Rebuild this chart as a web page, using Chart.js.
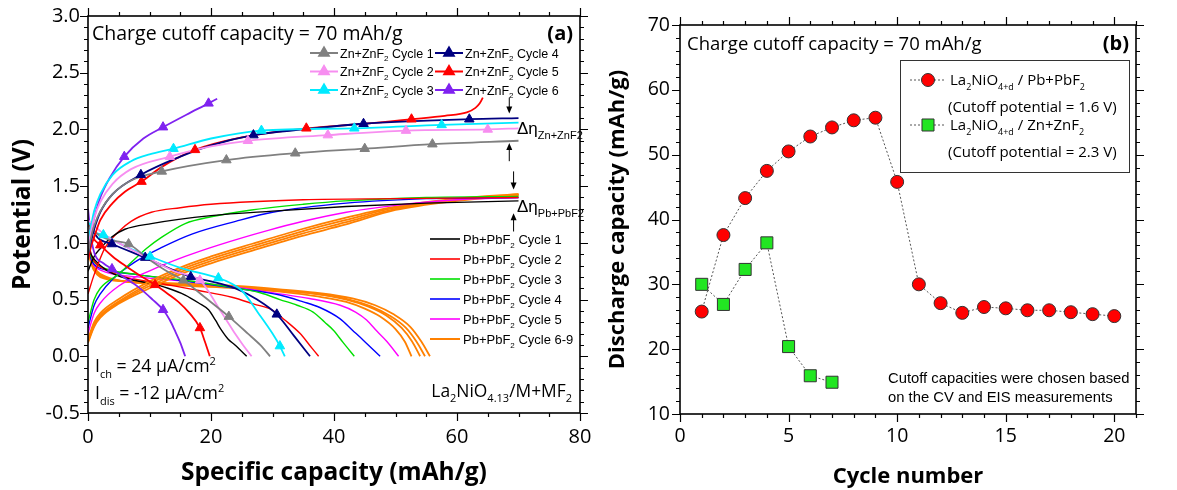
<!DOCTYPE html>
<html>
<head>
<meta charset="utf-8">
<script src="https://cdn.jsdelivr.net/npm/chart.js@4.4.0/dist/chart.umd.min.js"></script>
<style>
  html, body { margin: 0; padding: 0; background: #fff; }
  #wrap { position: relative; width: 1177px; height: 490px; }
  #panelA { position: absolute; left: 0; top: 0; width: 600px; height: 490px; }
  #panelB { position: absolute; left: 600px; top: 0; width: 577px; height: 490px; }
</style>
</head>
<body>
<div id="wrap">
  <div id="panelA"><canvas id="chartA"></canvas></div>
  <div id="panelB"><canvas id="chartB"></canvas></div>
</div>
<script>
"use strict";

// ---- panel (a): [specific capacity mAh/g, potential V] ----
const pb1Charge = [[0,0.75],[1,0.88],[2,0.95],[3.8,1.05],[6,1.12],[10.3,1.17],[20,1.24],[30,1.28],[42,1.32],[55,1.35],[70,1.37]];
const pb2Charge = [[0,0.55],[1,0.72],[2.8,0.96],[5,1.1],[7,1.19],[10.3,1.27],[15,1.31],[20,1.34],[35,1.38],[50,1.39],[70,1.40]];
const pb3Charge = [[0,0.3],[1,0.5],[2,0.6],[4.9,0.72],[9.5,0.95],[12,1.05],[15.8,1.17],[20,1.23],[26.6,1.29],[35,1.34],[41.8,1.37],[55,1.40],[70,1.41]];
const pb4Charge = [[0,0.25],[1,0.45],[2,0.55],[4,0.68],[7.6,0.83],[12,0.96],[17,1.08],[24,1.19],[30,1.27],[42,1.35],[55,1.39],[70,1.40]];
const pb5Charge = [[0,0.2],[1,0.38],[2,0.47],[5,0.62],[10.3,0.76],[15.8,0.88],[21.2,0.98],[29.3,1.11],[35,1.19],[42,1.27],[50,1.33],[60,1.38],[70,1.40]];
const pb6Charge = [[0,0.15],[1,0.3],[2,0.38],[4.9,0.5],[10,0.66],[15.8,0.8],[20,0.88],[26.6,0.99],[34.7,1.12],[41.8,1.22],[50,1.32],[60,1.39],[70,1.43]];
const pb7Charge = [[0,0.14],[1,0.28],[2,0.36],[4.9,0.48],[10,0.64],[15.8,0.78],[20,0.86],[26.6,0.97],[34.7,1.1],[41.8,1.2],[50,1.31],[60,1.38],[70,1.43]];
const pb8Charge = [[0,0.13],[1,0.27],[2,0.35],[4.9,0.47],[10,0.62],[15.8,0.76],[20,0.84],[26.6,0.95],[34.7,1.08],[41.8,1.18],[50,1.3],[60,1.38],[70,1.42]];
const pb9Charge = [[0,0.12],[1,0.26],[2,0.34],[4.9,0.46],[10,0.6],[15.8,0.74],[20,0.82],[26.6,0.93],[34.7,1.06],[41.8,1.16],[50,1.29],[60,1.37],[70,1.42]];

const pb1Dis = [[0,1.0],[0.5,0.9],[1.1,0.85],[3,0.76],[4.9,0.71],[7.5,0.67],[10.3,0.64],[13,0.6],[15.8,0.54],[18,0.47],[19.6,0.41],[20.7,0.32],[21.7,0.23],[22.8,0.15],[23.9,0.1],[25.8,0]];
const pb2Dis = [[0,1.05],[0.5,0.9],[1,0.84],[3,0.76],[6,0.7],[12,0.64],[18,0.58],[23.4,0.52],[27,0.46],[29.9,0.41],[32,0.32],[34.5,0.2],[36,0.1],[37.5,0]];
const pb3Dis = [[0,1.0],[0.5,0.88],[1,0.83],[3,0.77],[8,0.72],[15.8,0.67],[22,0.62],[28,0.56],[31.2,0.5],[34,0.45],[36.6,0.39],[38.5,0.3],[39.9,0.23],[41.5,0.12],[43.3,0]];
const pb4Dis = [[0,1.0],[0.5,0.86],[1,0.81],[3,0.76],[8,0.72],[16,0.66],[24,0.6],[31.2,0.54],[35,0.48],[37.7,0.43],[41,0.33],[43,0.23],[44.8,0.14],[47.5,0]];
const pb5Dis = [[0,1.0],[0.5,0.85],[1,0.8],[3,0.74],[8,0.7],[16,0.66],[24,0.61],[31.2,0.55],[36,0.51],[41,0.45],[43.5,0.39],[45.3,0.32],[47,0.22],[48.6,0.13],[50.5,0]];
const pb6Dis = [[0,1.0],[0.5,0.85],[1.5,0.75],[3,0.7],[6,0.66],[10,0.64],[16,0.62],[24,0.6],[31.2,0.57],[37,0.53],[42,0.48],[45,0.42],[47.5,0.35],[50,0.24],[51.5,0.13],[52.6,0]];
const pb7Dis = [[0,1.0],[0.5,0.84],[1.5,0.74],[3,0.69],[6,0.66],[10,0.64],[16,0.63],[24,0.61],[31.2,0.58],[37,0.55],[42,0.5],[45.5,0.44],[48.5,0.36],[51,0.25],[52.7,0.13],[54,0]];
const pb8Dis = [[0,0.98],[0.5,0.83],[1.5,0.73],[3,0.69],[6,0.66],[10,0.65],[16,0.63],[24,0.61],[31.2,0.58],[37,0.55],[42.5,0.5],[46,0.44],[49,0.36],[51.7,0.25],[53.4,0.13],[54.8,0]];
const pb9Dis = [[0,0.97],[0.5,0.82],[1.5,0.72],[3,0.68],[6,0.66],[10,0.65],[16,0.64],[24,0.62],[31.2,0.59],[37,0.56],[43,0.51],[46.7,0.45],[49.7,0.37],[52.4,0.26],[54.2,0.13],[55.6,0]];

const zn1Charge = [[0,0.9],[0.5,1.05],[1,1.15],[2,1.28],[4,1.43],[7,1.55],[12,1.63],[22.5,1.73],[33.7,1.79],[45,1.83],[56,1.87],[70,1.90]];
const zn2Charge = [[0,0.95],[0.5,1.1],[1,1.22],[2,1.36],[4,1.52],[7,1.65],[13.3,1.76],[20,1.85],[26,1.90],[39,1.95],[51.7,1.99],[65,2.0],[70,2.01]];
const zn3Charge = [[0,1.0],[0.5,1.15],[1,1.28],[2,1.43],[4,1.6],[7,1.72],[10,1.78],[13.9,1.83],[20,1.92],[28.2,1.99],[43.3,2.01],[57.5,2.04],[70,2.06]];
const zn4Charge = [[0,0.9],[0.5,1.02],[1,1.12],[2,1.27],[4,1.43],[8.6,1.60],[15,1.76],[20,1.86],[26.9,1.95],[35,2.0],[44.8,2.05],[62,2.09],[70,2.10]];
const zn5Charge = [[0,0.85],[0.5,0.97],[1,1.05],[2,1.2],[4,1.35],[6,1.45],[8.7,1.54],[12,1.67],[17.4,1.82],[25,1.93],[35.5,2.01],[45,2.05],[52.6,2.09],[58,2.12],[61.6,2.15],[63,2.19],[63.7,2.23],[64.2,2.28]];
const zn6Charge = [[0,0.95],[0.5,1.1],[1,1.22],[2,1.4],[3.5,1.57],[5.9,1.76],[9,1.92],[12.2,2.02],[16,2.13],[19.6,2.23],[21,2.27]];

const zn1Dis = [[0,1.15],[2,1.06],[4,1.02],[6.6,0.99],[10,0.85],[12.5,0.76],[15.5,0.67],[19,0.52],[22.9,0.35],[26,0.2],[28,0.1],[29.6,0]];
const zn2Dis = [[0,1.2],[3,1.06],[6,0.97],[10,0.86],[14,0.75],[18.2,0.67],[19.5,0.58],[21.2,0.43],[22.5,0.32],[23.9,0.2],[25.2,0.1],[26.6,0]];
const zn3Dis = [[0,1.2],[1,1.1],[2.5,1.07],[6,0.97],[10.1,0.88],[15,0.78],[21.2,0.69],[23,0.65],[25,0.58],[27.7,0.38],[30,0.2],[31.2,0.09],[32,0]];
const zn4Dis = [[0,1.2],[1.5,1.05],[3.9,0.99],[9.3,0.87],[16.7,0.70],[20,0.66],[23.9,0.6],[27.5,0.5],[30.7,0.37],[33.5,0.18],[36.1,0]];
const zn5Dis = [[0,1.2],[0.8,1.05],[2,0.98],[4,0.88],[6,0.8],[8.5,0.71],[10.9,0.63],[13,0.55],[14.7,0.48],[16.5,0.38],[18.2,0.25],[19,0.13],[19.8,0]];
const zn6Dis = [[0,1.3],[0.5,1.05],[1.1,0.9],[2.5,0.82],[3.9,0.77],[6,0.69],[8.2,0.61],[10.5,0.5],[12.2,0.41],[13.3,0.32],[14.1,0.23],[15,0.12],[15.8,0]];

// triangle markers on the Zn+ZnF2 curves
const zn1Marks = [[12,1.63],[22.5,1.73],[33.7,1.79],[45,1.83],[56,1.87],[6.6,0.99],[15.5,0.67],[22.9,0.35]];
const zn2Marks = [[13.3,1.76],[26,1.90],[39,1.95],[51.7,1.99],[65,2.0],[18.2,0.67]];
const zn3Marks = [[13.9,1.83],[28.2,1.99],[43.3,2.01],[57.5,2.04],[2.5,1.07],[10.1,0.88],[21.2,0.69],[31.2,0.09]];
const zn4Marks = [[8.6,1.60],[26.9,1.95],[44.8,2.05],[62,2.09],[3.9,0.99],[9.3,0.87],[16.7,0.70],[30.7,0.37]];
const zn5Marks = [[8.7,1.54],[17.4,1.82],[35.5,2.01],[52.6,2.09],[2.0,0.98],[10.9,0.63],[18.2,0.25]];
const zn6Marks = [[5.9,1.76],[12.2,2.02],[19.6,2.23],[3.9,0.77],[12.2,0.41]];

const znCycleLabels = ["1", "2", "3", "4", "5", "6"];
const pbCycleLabels = ["1", "2", "3", "4", "5", "6-9"];
const capacityTicks = [0, 20, 40, 60, 80];
const potentialTicks = [-0.5, 0, 0.5, 1, 1.5, 2, 2.5, 3];

// ---- panel (b): discharge capacity per cycle ----
const pbCycles = [1,2,3,4,5,6,7,8,9,10,11,12,13,14,15,16,17,18,19,20];
const pbCapacity = [25.8,37.6,43.3,47.5,50.5,52.8,54.2,55.3,55.7,45.8,30.0,27.1,25.6,26.5,26.3,26.0,26.0,25.7,25.4,25.1];
const znCycles = [1,2,3,4,5,6,7];
const znCapacity = [30.0,26.9,32.3,36.4,20.4,15.9,14.9];
const cycleTicks = [0, 5, 10, 15, 20];
const dischargeTicks = [10, 20, 30, 40, 50, 60, 70];

const SANS = "'Open Sans', sans-serif";
const ARIAL = "'Liberation Sans', Arial, sans-serif";
const znColors = ["#808080", "#f78ef0", "#00eaff", "#000080", "#ff0000", "#7f22f0"];
const pbColors = ["#000000", "#ff0000", "#00e000", "#0000ff", "#ff00ff", "#ff8000"];

function xy(pairs) {
  return pairs.map(p => ({x: p[0], y: p[1]}));
}

function curve(pairs, color, width) {
  return {
    data: xy(pairs), showLine: true, borderColor: color, backgroundColor: color,
    borderWidth: width, pointRadius: 0, pointHoverRadius: 0,
    cubicInterpolationMode: "monotone", fill: false
  };
}

function marks(pairs, color) {
  return {
    data: xy(pairs), showLine: false, pointStyle: "triangle", pointRadius: 5.5,
    pointBackgroundColor: color, pointBorderColor: color, pointBorderWidth: 1
  };
}

// text with sub/superscript pieces; y is the visual middle of the text
function rich(ctx, parts, x, y, size, opt) {
  const weight = opt.weight || "normal";
  const fontOf = kind => weight + " " + (kind ? Math.round(size * 0.62) : size) + "px " + opt.family;
  let w = 0;
  parts.forEach(p => { ctx.font = fontOf(p[1]); w += ctx.measureText(p[0]).width; });
  let cx = opt.align === "right" ? x - w : (opt.align === "center" ? x - w / 2 : x);
  ctx.textAlign = "left";
  ctx.textBaseline = "alphabetic";
  ctx.fillStyle = opt.color || "#000";
  const base = y + size * 0.36;
  parts.forEach(p => {
    ctx.font = fontOf(p[1]);
    const dy = p[1] === "sub" ? size * 0.3 : (p[1] === "sup" ? -size * 0.42 : 0);
    ctx.fillText(p[0], cx, base + dy);
    cx += ctx.measureText(p[0]).width;
  });
}

function vArrow(ctx, x, y0, y1) {
  const dir = y1 > y0 ? 1 : -1;
  ctx.beginPath();
  ctx.moveTo(x, y0);
  ctx.lineTo(x, y1 - dir * 4);
  ctx.stroke();
  ctx.beginPath();
  ctx.moveTo(x, y1);
  ctx.lineTo(x - 3, y1 - dir * 7);
  ctx.lineTo(x + 3, y1 - dir * 7);
  ctx.closePath();
  ctx.fill();
}

// frame on all four sides with outward major / minor ticks
const frameTicks = {
  id: "frameTicks",
  afterDatasetsDraw(chart, args, o) {
    const {ctx, chartArea: a, scales: {x, y}} = chart;
    const isMajor = (v, m) => Math.abs(v / m - Math.round(v / m)) < 1e-6;
    ctx.save();
    ctx.strokeStyle = "#000";
    ctx.lineWidth = 1.2;
    ctx.beginPath();
    const nx = Math.round((x.max - x.min) / o.xMinor);
    for (let i = 0; i <= nx; i++) {
      const v = x.min + i * o.xMinor;
      const px = Math.round(x.getPixelForValue(v)) + 0.5;
      const len = isMajor(v, o.xMajor) ? 8 : 4;
      ctx.moveTo(px, a.bottom); ctx.lineTo(px, a.bottom + len);
      ctx.moveTo(px, a.top); ctx.lineTo(px, a.top - len);
    }
    const ny = Math.round((y.max - y.min) / o.yMinor);
    for (let i = 0; i <= ny; i++) {
      const v = y.min + i * o.yMinor;
      const py = Math.round(y.getPixelForValue(v)) + 0.5;
      const len = isMajor(v, o.yMajor) ? 8 : 4;
      ctx.moveTo(a.left, py); ctx.lineTo(a.left - len, py);
      ctx.moveTo(a.right, py); ctx.lineTo(a.right + len, py);
    }
    ctx.stroke();
    ctx.lineWidth = 1.6;
    ctx.strokeRect(a.left, a.top, a.right - a.left, a.bottom - a.top);
    ctx.restore();
  }
};

function axes(cfg) {
  return {
    x: {
      type: "linear", min: cfg.xMin, max: cfg.xMax,
      afterBuildTicks: s => { s.ticks = cfg.xTicks.map(v => ({value: v})); },
      afterFit: s => { s.height = cfg.xHeight; s.paddingLeft = 0; s.paddingRight = 0; },
      grid: {display: false, drawTicks: false},
      border: {display: false},
      ticks: {color: "#000", padding: cfg.xPad, maxRotation: 0, font: {family: SANS, size: cfg.tickSize},
              callback: cfg.xFormat},
      title: {display: true, text: cfg.xTitle, color: "#000", padding: {top: 0, bottom: cfg.xTitlePad},
              font: {family: SANS, size: cfg.titleSize, weight: "bold"}}
    },
    y: {
      type: "linear", min: cfg.yMin, max: cfg.yMax,
      afterBuildTicks: s => { s.ticks = cfg.yTicks.map(v => ({value: v})); },
      afterFit: s => { s.width = cfg.yWidth; s.paddingTop = 0; s.paddingBottom = 0; },
      grid: {display: false, drawTicks: false},
      border: {display: false},
      ticks: {color: "#000", padding: cfg.yPad, font: {family: SANS, size: cfg.tickSize}, callback: cfg.yFormat},
      title: {display: true, text: cfg.yTitle, color: "#000", padding: {top: cfg.yTitlePad, bottom: 0},
              font: {family: SANS, size: cfg.titleSize, weight: "bold"}}
    }
  };
}

// ---------- panel (a) ----------
const znCharge = [zn1Charge, zn2Charge, zn3Charge, zn4Charge, zn5Charge, zn6Charge];
const znDis = [zn1Dis, zn2Dis, zn3Dis, zn4Dis, zn5Dis, zn6Dis];
const znMarks = [zn1Marks, zn2Marks, zn3Marks, zn4Marks, zn5Marks, zn6Marks];
const pbCharge = [pb1Charge, pb2Charge, pb3Charge, pb4Charge, pb5Charge, pb6Charge, pb7Charge, pb8Charge, pb9Charge];
const pbDis = [pb1Dis, pb2Dis, pb3Dis, pb4Dis, pb5Dis, pb6Dis, pb7Dis, pb8Dis, pb9Dis];

const setsA = [];
znMarks.forEach((m, i) => setsA.push(marks(m, znColors[i])));
znCharge.forEach((c, i) => setsA.push(curve(c, znColors[i], 1.8)));
znDis.forEach((c, i) => setsA.push(curve(c, znColors[i], 1.8)));
pbCharge.forEach((c, i) => setsA.push(curve(c, pbColors[Math.min(i, 5)], i >= 5 ? 1.8 : 1.4)));
pbDis.forEach((c, i) => setsA.push(curve(c, pbColors[Math.min(i, 5)], i >= 5 ? 1.8 : 1.4)));

const notesA = {
  id: "notesA",
  afterDraw(chart) {
    const {ctx, scales: {x, y}} = chart;
    ctx.save();
    rich(ctx, [["Charge cutoff capacity = 70 mAh/g"]], 92, 33, 19.5, {family: SANS});
    rich(ctx, [["(a)"]], 573, 33, 20, {family: SANS, weight: "bold", align: "right"});

    // Zn+ZnF2 legend, two columns
    znColors.forEach((c, i) => {
      const x0 = i < 3 ? 310 : 435;
      const yy = 53 + (i % 3) * 18.5;
      ctx.strokeStyle = c; ctx.lineWidth = 2;
      ctx.beginPath(); ctx.moveTo(x0, yy); ctx.lineTo(x0 + 28, yy); ctx.stroke();
      ctx.fillStyle = c;
      Chart.helpers.drawPoint(ctx, {pointStyle: "triangle", radius: 5.5, rotation: 0, borderWidth: 1}, x0 + 14, yy);
      rich(ctx, [["Zn+ZnF"], ["2", "sub"], [" Cycle " + znCycleLabels[i]]], x0 + 30, yy, 12.5, {family: ARIAL});
    });

    // Pb+PbF2 legend
    pbColors.forEach((c, i) => {
      const yy = 239 + i * 20;
      ctx.strokeStyle = c; ctx.lineWidth = i === 5 ? 2 : 1.6;
      ctx.beginPath(); ctx.moveTo(430, yy); ctx.lineTo(460, yy); ctx.stroke();
      rich(ctx, [["Pb+PbF"], ["2", "sub"], [" Cycle " + pbCycleLabels[i]]], 463, yy, 13, {family: ARIAL});
    });

    // overpotential arrows
    ctx.strokeStyle = "#000"; ctx.fillStyle = "#000"; ctx.lineWidth = 1;
    const ax1 = x.getPixelForValue(68.5);
    vArrow(ctx, ax1, y.getPixelForValue(2.28), y.getPixelForValue(2.14));
    vArrow(ctx, ax1, y.getPixelForValue(1.72), y.getPixelForValue(1.88));
    const ax2 = x.getPixelForValue(69.2);
    vArrow(ctx, ax2, y.getPixelForValue(1.63), y.getPixelForValue(1.47));
    vArrow(ctx, ax2, y.getPixelForValue(1.10), y.getPixelForValue(1.26));
    rich(ctx, [["\u0394\u03B7"], ["Zn+ZnF2", "sub"]], 517, 128, 17, {family: ARIAL});
    rich(ctx, [["\u0394\u03B7"], ["Pb+PbF2", "sub"]], 517, 206, 17, {family: ARIAL});

    rich(ctx, [["I"], ["ch", "sub"], [" = 24 \u03BCA/cm"], ["2", "sup"]], 95, 366, 17.7, {family: SANS});
    rich(ctx, [["I"], ["dis", "sub"], [" = -12 \u03BCA/cm"], ["2", "sup"]], 95, 393, 17.7, {family: SANS});
    rich(ctx, [["La"], ["2", "sub"], ["NiO"], ["4.13", "sub"], ["/M+MF"], ["2", "sub"]], 572, 391, 17.4, {family: SANS, align: "right"});
    ctx.restore();
  }
};

new Chart(document.getElementById("chartA"), {
  type: "scatter",
  data: {datasets: setsA},
  options: {
    responsive: true, maintainAspectRatio: false, animation: false,
    layout: {padding: {top: 16, right: 20, left: 0, bottom: 0}},
    scales: axes({
      xMin: 0, xMax: 80, xTicks: capacityTicks, xHeight: 77, xPad: 12, xTitlePad: 2,
      xTitle: "Specific capacity (mAh/g)", xFormat: v => String(v),
      yMin: -0.5, yMax: 3, yTicks: potentialTicks, yWidth: 88, yPad: 8, yTitlePad: 8,
      yTitle: "Potential (V)", yFormat: v => v.toFixed(1),
      tickSize: 20, titleSize: 24.5
    }),
    plugins: {
      legend: {display: false}, tooltip: {enabled: false},
      frameTicks: {xMajor: 20, xMinor: 5, yMajor: 0.5, yMinor: 0.1}
    }
  },
  plugins: [frameTicks, notesA]
});

// ---------- panel (b) ----------
function cycleSet(cyc, vals, style, radius, fillColor) {
  return {
    data: cyc.map((c, i) => ({x: c, y: vals[i]})), showLine: true,
    borderColor: "#555", borderWidth: 1, borderDash: [2, 2], tension: 0,
    pointStyle: style, pointRadius: radius, pointHoverRadius: radius,
    pointBackgroundColor: fillColor, pointBorderColor: "#333", pointBorderWidth: 1
  };
}

const setsB = [
  cycleSet(pbCycles, pbCapacity, "circle", 6.5, "#ff0000"),
  cycleSet(znCycles, znCapacity, "rect", 8.5, "#22e622")
];

const notesB = {
  id: "notesB",
  afterDraw(chart) {
    const ctx = chart.ctx;
    ctx.save();
    rich(ctx, [["Charge cutoff capacity = 70 mAh/g"]], 87, 43, 18.5, {family: SANS});
    rich(ctx, [["(b)"]], 529, 43, 20, {family: SANS, weight: "bold", align: "right"});

    ctx.strokeStyle = "#333"; ctx.lineWidth = 1;
    ctx.strokeRect(300.5, 60.5, 229, 112);
    const rows = [
      {y: 80, style: "circle", r: 6.5, fill: "#ff0000", name: "Pb+PbF", pot: "1.6"},
      {y: 125, style: "rect", r: 8.5, fill: "#22e622", name: "Zn+ZnF", pot: "2.3"}
    ];
    rows.forEach(rw => {
      ctx.strokeStyle = "#555"; ctx.setLineDash([2, 2]);
      ctx.beginPath(); ctx.moveTo(310, rw.y); ctx.lineTo(346, rw.y); ctx.stroke();
      ctx.setLineDash([]);
      ctx.fillStyle = rw.fill; ctx.strokeStyle = "#333";
      Chart.helpers.drawPoint(ctx, {pointStyle: rw.style, radius: rw.r, rotation: 0, borderWidth: 1}, 328, rw.y);
      rich(ctx, [["La"], ["2", "sub"], ["NiO"], ["4+d", "sub"], [" / " + rw.name], ["2", "sub"]], 350, rw.y, 15, {family: SANS});
      rich(ctx, [["(Cutoff potential = " + rw.pot + " V)"]], 348, rw.y + 27, 15, {family: SANS});
    });

    rich(ctx, [["Cutoff capacities were chosen based"]], 288, 378, 14.8, {family: ARIAL});
    rich(ctx, [["on the CV and EIS measurements"]], 288, 397, 14.8, {family: ARIAL});
    ctx.restore();
  }
};

new Chart(document.getElementById("chartB"), {
  type: "scatter",
  data: {datasets: setsB},
  options: {
    responsive: true, maintainAspectRatio: false, animation: false,
    layout: {padding: {top: 25, right: 41, left: 0, bottom: 0}},
    scales: axes({
      xMin: 0, xMax: 21, xTicks: cycleTicks, xHeight: 76, xPad: 11, xTitlePad: 0,
      xTitle: "Cycle number", xFormat: v => String(v),
      yMin: 10, yMax: 70, yTicks: dischargeTicks, yWidth: 80, yPad: 10, yTitlePad: 5,
      yTitle: "Discharge capacity (mAh/g)", yFormat: v => String(v),
      tickSize: 19.5, titleSize: 22
    }),
    plugins: {
      legend: {display: false}, tooltip: {enabled: false},
      frameTicks: {xMajor: 5, xMinor: 1, yMajor: 10, yMinor: 2}
    }
  },
  plugins: [frameTicks, notesB]
});
</script>
</body>
</html>
